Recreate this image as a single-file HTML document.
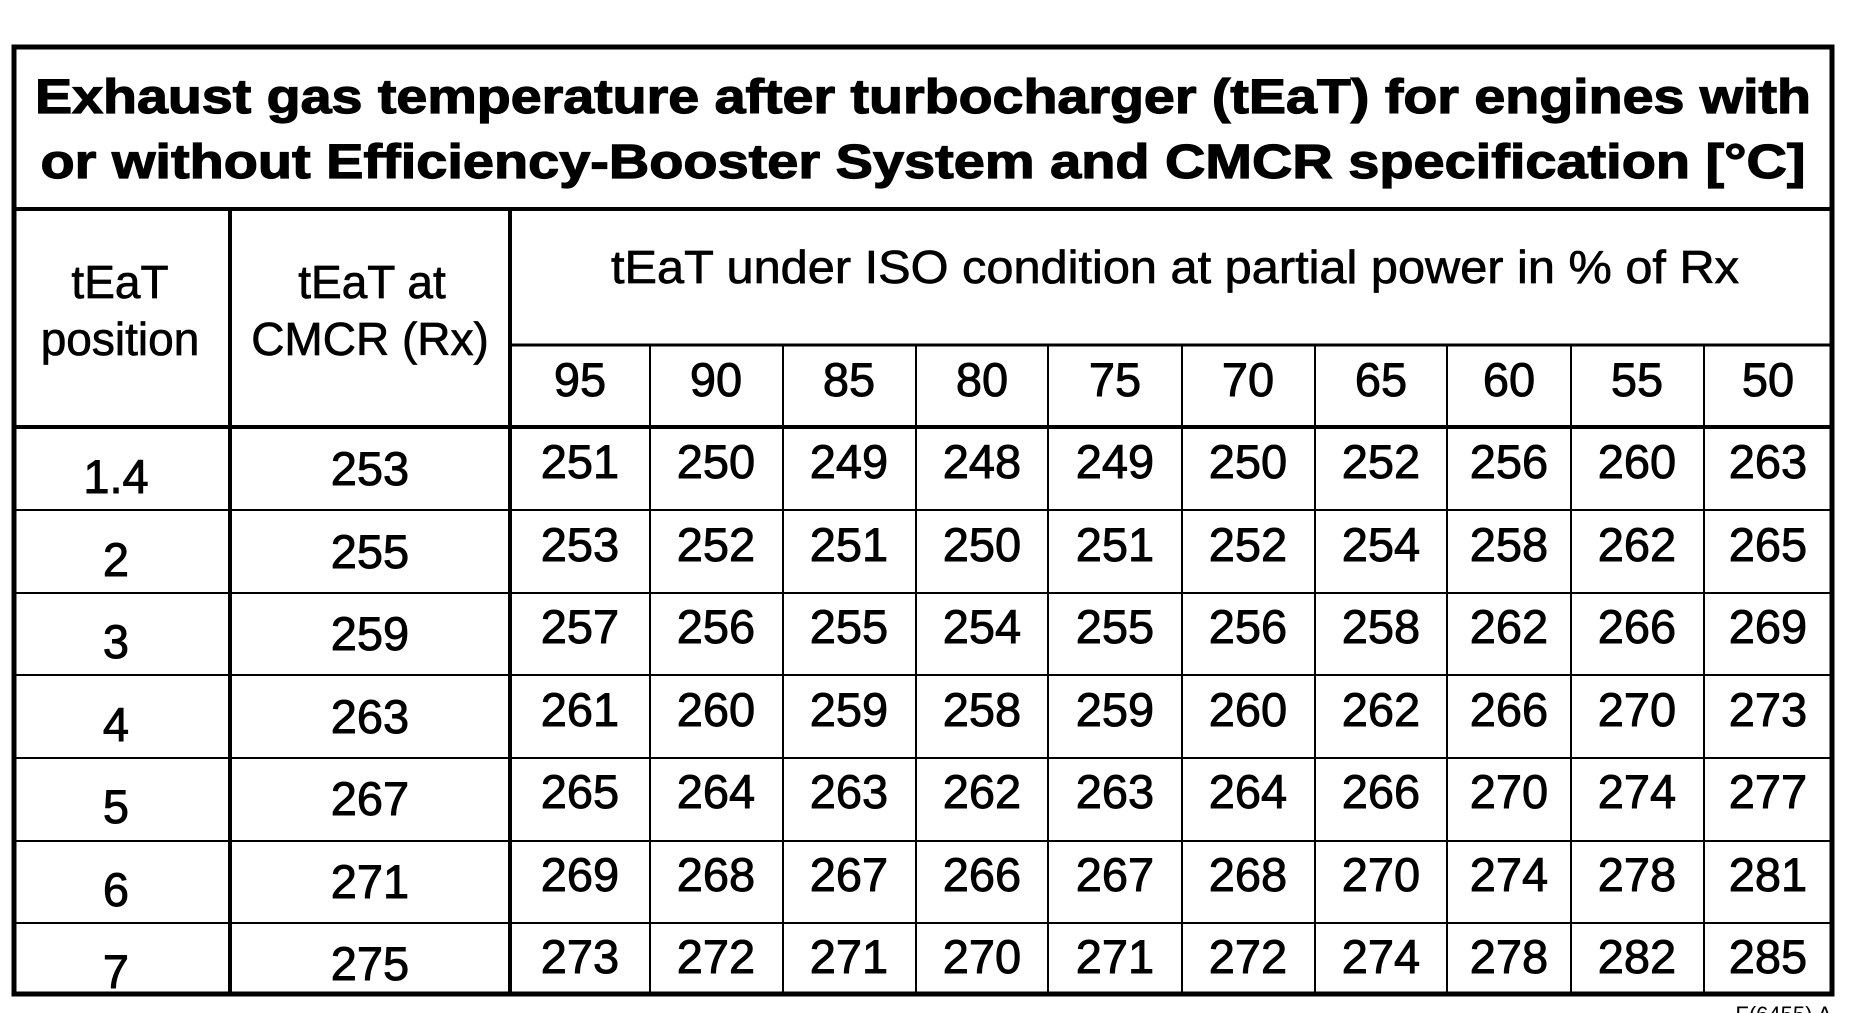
<!DOCTYPE html>
<html><head><meta charset="utf-8"><style>
html,body{margin:0;padding:0;background:#fff;}
svg{display:block;}
text{font-family:"Liberation Sans",Arial,sans-serif;fill:#000;}
</style></head><body>
<svg width="1850" height="1013" viewBox="0 0 1850 1013">
<rect x="0" y="0" width="1850" height="1013" fill="#fff"/>
<g stroke="#000" fill="none">
<rect x="14" y="47" width="1818" height="947" stroke-width="5"/>
<line x1="14" y1="209" x2="1832" y2="209" stroke-width="4"/>
<line x1="14" y1="427" x2="1832" y2="427" stroke-width="4"/>
<line x1="230" y1="209" x2="230" y2="994" stroke-width="4"/>
<line x1="510" y1="209" x2="510" y2="994" stroke-width="4"/>
<line x1="510" y1="345" x2="1832" y2="345" stroke-width="3"/>
<g stroke-width="2">
<line x1="650" y1="345" x2="650" y2="994"/>
<line x1="783" y1="345" x2="783" y2="994"/>
<line x1="916" y1="345" x2="916" y2="994"/>
<line x1="1048" y1="345" x2="1048" y2="994"/>
<line x1="1182" y1="345" x2="1182" y2="994"/>
<line x1="1315" y1="345" x2="1315" y2="994"/>
<line x1="1447" y1="345" x2="1447" y2="994"/>
<line x1="1571" y1="345" x2="1571" y2="994"/>
<line x1="1704" y1="345" x2="1704" y2="994"/>
<line x1="14" y1="510" x2="1832" y2="510"/>
<line x1="14" y1="593" x2="1832" y2="593"/>
<line x1="14" y1="675" x2="1832" y2="675"/>
<line x1="14" y1="758" x2="1832" y2="758"/>
<line x1="14" y1="841" x2="1832" y2="841"/>
<line x1="14" y1="923" x2="1832" y2="923"/>
</g>
</g>
<g font-weight="bold" font-size="48" stroke="#000" stroke-width="1.2">
<text x="923" y="113" text-anchor="middle" textLength="1776" lengthAdjust="spacingAndGlyphs">Exhaust gas temperature after turbocharger (tEaT) for engines with</text>
<text x="923" y="178" text-anchor="middle" textLength="1765" lengthAdjust="spacingAndGlyphs">or without Efficiency-Booster System and CMCR specification [°C]</text>
</g>
<g font-size="46" text-anchor="middle" stroke="#000" stroke-width="0.7">
<text x="120" y="298">tEaT</text>
<text x="120" y="355">position</text>
<text x="372" y="298">tEaT at</text>
<text x="370" y="355">CMCR (Rx)</text>
<text x="1175" y="283" textLength="1128" lengthAdjust="spacingAndGlyphs">tEaT under ISO condition at partial power in % of Rx</text>
</g>
<g font-size="47" text-anchor="middle" stroke="#000" stroke-width="0.9">
<text x="580" y="396">95</text><text x="716" y="396">90</text><text x="849" y="396">85</text><text x="982" y="396">80</text><text x="1115" y="396">75</text><text x="1248" y="396">70</text><text x="1381" y="396">65</text><text x="1509" y="396">60</text><text x="1637" y="396">55</text><text x="1768" y="396">50</text>

<text x="116" y="493">1.4</text><text x="370" y="485">253</text>
<text x="580" y="478">251</text><text x="716" y="478">250</text><text x="849" y="478">249</text><text x="982" y="478">248</text><text x="1115" y="478">249</text><text x="1248" y="478">250</text><text x="1381" y="478">252</text><text x="1509" y="478">256</text><text x="1637" y="478">260</text><text x="1768" y="478">263</text>

<text x="116" y="576">2</text><text x="370" y="568">255</text>
<text x="580" y="561">253</text><text x="716" y="561">252</text><text x="849" y="561">251</text><text x="982" y="561">250</text><text x="1115" y="561">251</text><text x="1248" y="561">252</text><text x="1381" y="561">254</text><text x="1509" y="561">258</text><text x="1637" y="561">262</text><text x="1768" y="561">265</text>

<text x="116" y="658">3</text><text x="370" y="650">259</text>
<text x="580" y="643">257</text><text x="716" y="643">256</text><text x="849" y="643">255</text><text x="982" y="643">254</text><text x="1115" y="643">255</text><text x="1248" y="643">256</text><text x="1381" y="643">258</text><text x="1509" y="643">262</text><text x="1637" y="643">266</text><text x="1768" y="643">269</text>

<text x="116" y="741">4</text><text x="370" y="733">263</text>
<text x="580" y="726">261</text><text x="716" y="726">260</text><text x="849" y="726">259</text><text x="982" y="726">258</text><text x="1115" y="726">259</text><text x="1248" y="726">260</text><text x="1381" y="726">262</text><text x="1509" y="726">266</text><text x="1637" y="726">270</text><text x="1768" y="726">273</text>

<text x="116" y="823">5</text><text x="370" y="815">267</text>
<text x="580" y="808">265</text><text x="716" y="808">264</text><text x="849" y="808">263</text><text x="982" y="808">262</text><text x="1115" y="808">263</text><text x="1248" y="808">264</text><text x="1381" y="808">266</text><text x="1509" y="808">270</text><text x="1637" y="808">274</text><text x="1768" y="808">277</text>

<text x="116" y="906">6</text><text x="370" y="898">271</text>
<text x="580" y="891">269</text><text x="716" y="891">268</text><text x="849" y="891">267</text><text x="982" y="891">266</text><text x="1115" y="891">267</text><text x="1248" y="891">268</text><text x="1381" y="891">270</text><text x="1509" y="891">274</text><text x="1637" y="891">278</text><text x="1768" y="891">281</text>

<text x="116" y="988">7</text><text x="370" y="980">275</text>
<text x="580" y="973">273</text><text x="716" y="973">272</text><text x="849" y="973">271</text><text x="982" y="973">270</text><text x="1115" y="973">271</text><text x="1248" y="973">272</text><text x="1381" y="973">274</text><text x="1509" y="973">278</text><text x="1637" y="973">282</text><text x="1768" y="973">285</text>
</g>
<text x="1832" y="1022" font-size="22" text-anchor="end">F(6455) A</text>
</svg>
</body></html>
